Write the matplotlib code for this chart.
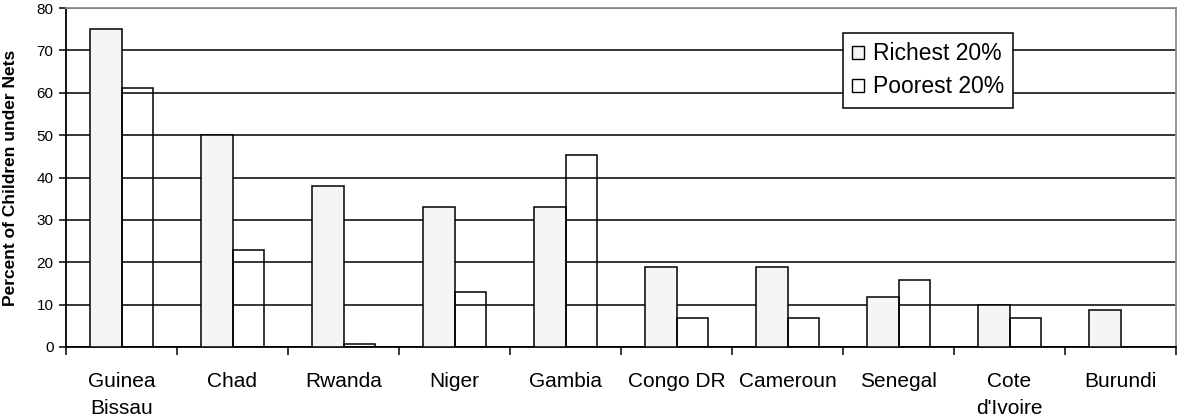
import matplotlib.pyplot as plt
import numpy as np
from matplotlib.patches import Rectangle

plt.rcParams['font.family'] = ['Liberation Sans', 'DejaVu Sans']

countries = ["Guinea\nBissau", "Chad", "Rwanda", "Niger", "Gambia", "Congo DR",
             "Cameroun", "Senegal", "Cote\nd'Ivoire", "Burundi"]
richest = [75, 50, 38, 33, 33, 18.8, 18.8, 11.7, 10, 8.8]
poorest = [61.2, 23, 0.8, 13, 45.2, 6.9, 6.9, 15.9, 6.9, 0]
y_ticks = [0, 10, 20, 30, 40, 50, 60, 70, 80]

fig = plt.figure(figsize=(11.77, 4.18), dpi=100)
ax = fig.add_axes([66 / 1177, 1 - 347 / 418, 1110 / 1177, 339 / 418])

x = np.arange(len(countries)) + 0.5
w = 0.285

ax.bar(x - w / 2, richest, w, color='#f5f5f5', edgecolor='black', linewidth=1.1, zorder=3)
ax.bar(x + w / 2, poorest, w, facecolor='none', edgecolor='black', linewidth=1.1, zorder=3)

ax.set_xlim(0, len(countries))
ax.set_ylim(0, 80)
ax.set_yticks(y_ticks)
ax.yaxis.grid(True, color='black', linewidth=1.1, zorder=1)
ax.set_axisbelow(True)

# category boundaries get the tick marks, names sit on minor ticks at the centres
ax.set_xticks(np.arange(len(countries) + 1))
ax.set_xticklabels([])
ax.set_xticks(x, minor=True)
ax.set_xticklabels(countries, minor=True, fontsize=15, linespacing=1.5)
ax.tick_params(axis='x', which='major', direction='out', length=6, width=1.1)
ax.tick_params(axis='x', which='minor', length=0, pad=18)
ax.tick_params(axis='y', direction='out', length=5, width=1.1, labelsize=11, pad=4)

for s in ['left', 'bottom']:
    ax.spines[s].set_linewidth(1.3)
for s in ['top', 'right']:
    ax.spines[s].set_color('#8c8c8c')
    ax.spines[s].set_linewidth(1.3)

ax.set_ylabel('Percent of Children under Nets', fontsize=12.5, fontweight='bold', labelpad=13)

handles = [Rectangle((0, 0), 1, 1, facecolor='#f5f5f5', edgecolor='black', linewidth=1),
           Rectangle((0, 0), 1, 1, facecolor='white', edgecolor='black', linewidth=1)]
leg = ax.legend(handles, ['Richest 20%', 'Poorest 20%'], loc='upper left',
                bbox_to_anchor=(843 / 1177, 1 - 33 / 418), bbox_transform=fig.transFigure,
                fontsize=16.5, frameon=True, fancybox=False, framealpha=1,
                edgecolor='black', handlelength=0.5, handleheight=0.5,
                handletextpad=0.4, borderpad=0.4, labelspacing=0.45, borderaxespad=0)
leg.get_frame().set_linewidth(1.1)
leg.set_zorder(5)

fig.savefig('out.png', dpi=100)
